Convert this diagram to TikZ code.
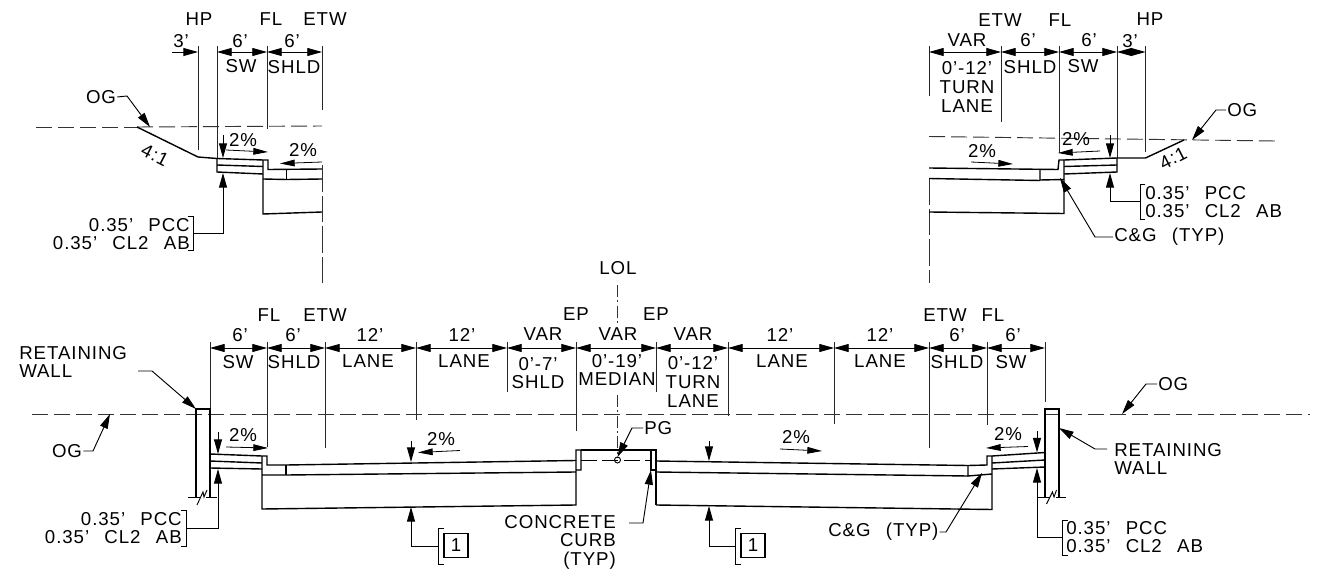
\documentclass[tikz,border=0pt]{standalone}
\usepackage{fontspec}
\setmainfont[LetterSpace=5,WordSpace=2.5]{Liberation Sans}
\usetikzlibrary{arrows.meta}
\tikzset{
  lbl/.style={inner sep=0.75pt,align=center,font=\fontsize{14}{13.9}\selectfont},
  thinln/.style={line width=0.7pt,color=black!85},
  pave/.style={line width=1.05pt},
  ogline/.style={line width=0.7pt,color=black!80,dash pattern=on 12pt off 4.5pt},
  clline/.style={line width=0.7pt,color=black!80,dash pattern=on 9pt off 2.5pt on 1.5pt off 2.5pt},
  breakln/.style={line width=0.7pt,color=black!80,dash pattern=on 20pt off 3pt},
  dimln/.style={line width=0.6pt,{Triangle[length=11pt,width=6pt]}-{Triangle[length=11pt,width=6pt]}},
  leader/.style={line width=0.7pt,-{Triangle[length=11pt,width=6pt]}},
  slope/.style={line width=0.6pt,-{Triangle[length=11pt,width=5pt]}},
}
\begin{document}
\begin{tikzpicture}[x=0.75pt,y=0.75pt,yscale=-1,xscale=1]
\useasboundingbox (0,0) rectangle (1317,574);

%Top left extension lines
\draw [thinln] (198,46) -- (198,150);
\draw [thinln] (217,46) -- (217,158);
\draw [thinln] (267,46) -- (267,129);
\draw [thinln] (322,46) -- (322,110);
\draw [breakln] (322,165) -- (322,283);
%Top left dimensions
\draw [leader] (172,52) -- (198,52);
\draw [dimln] (217,52) -- (267,52);
\draw [dimln] (267,52) -- (322,52);
%Top left ground
\draw [ogline] (36,127) -- (137,127);
\draw [ogline] (137,127) -- (322,126);
\draw [pave] (137,127) -- (198,157) -- (217,158.5) -- (263,160) -- (268,160) -- (268,169.5) -- (322,169);
\draw [pave] (217,158.5) -- (217,172) -- (263,174);
\draw [pave] (217,165) -- (263,166.5);
\draw [pave] (263,160) -- (263,214) -- (322,212);
\draw [pave] (263,179) -- (286.5,179.5) -- (322,179);
\draw [pave] (286.5,169.5) -- (286.5,179.5);
%Top left arrows
\draw [leader] (223,135) -- (223,158);
\draw [slope] (226,150) -- (268,152);
\draw [slope] (322,162) -- (280,163.5);
\draw [line width=0.7pt] (188,216) -- (193,216) -- (193,250) -- (188,250);
\draw [leader] (193,233) -- (223,233) -- (223,173);

% Text Node
\draw (199,19) node (hpA) [lbl] {HP};
\draw (271,19) node (flA) [lbl] {FL};
\draw (325,19) node (etwA) [lbl] {ETW};
\draw (181,41) node (dimThreeA) [lbl] {3'};
\draw (240,41) node (dimSixA) [lbl] {6'};
\draw (292,41) node (dimSixB) [lbl] {6'};
\draw (241,66) node (swA) [lbl] {SW};
\draw (294,67) node (shldA) [lbl] {SHLD};
\draw (243,140) node (pctA) [lbl] {2\%};
\draw (303,150) node (pctB) [lbl] {2\%};
\draw (155,155) node (slopeA) [lbl,rotate=-27] {4:1};
\draw (191,234) node (pccA) [lbl,anchor=east,align=right] {0.35' PCC\\0.35' CL2 AB};
\draw (101,97) node (ogA) [lbl] {OG};
\coordinate (ogAtip) at (150,127);
\draw [leader] (ogA.east) -- (127,96) -- (ogAtip);

%Top right extension lines
\draw [thinln] (929,46) -- (929,96);
\draw [breakln] (929,178) -- (929,283);
\draw [thinln] (1001,46) -- (1001,122);
\draw [thinln] (1059,46) -- (1059,153);
\draw [thinln] (1117,46) -- (1117,158);
\draw [thinln] (1145.5,46) -- (1145.5,152);
%Top right dimensions
\draw [dimln] (929,52) -- (1001,52);
\draw [dimln] (1001,52) -- (1059,52);
\draw [dimln] (1059,52) -- (1117,52);
\draw [dimln] (1117,52) -- (1145.5,52);
%Top right ground
\draw [ogline] (929,136.5) -- (1275,141);
\draw [pave] (1184,140) -- (1145.5,158) -- (1117,158) -- (1064,160) -- (1059,160) -- (1058,169.5) -- (929,168);
\draw [pave] (1117,158) -- (1117,172) -- (1064,174);
\draw [pave] (1117,165) -- (1064,166.5);
\draw [pave] (1064,160) -- (1064,213.5) -- (929,212);
\draw [pave] (929,178.5) -- (1040,180.5);
\draw [pave] (1040,169) -- (1040,180) -- (1064,179.5);
%Top right arrows
\draw [slope] (971,162) -- (1013,164);
\draw [slope] (1100,151) -- (1058,153);
\draw [leader] (1110,135) -- (1110,158);
\draw [line width=0.7pt] (1145,184) -- (1140,184) -- (1140,219) -- (1145,219);
\draw [leader] (1140,201) -- (1110,201) -- (1110,173);

% Text Node
\draw (1000,20) node (etwB) [lbl] {ETW};
\draw (1060,20) node (flB) [lbl] {FL};
\draw (1150,19) node (hpB) [lbl] {HP};
\draw (967,40) node (varA) [lbl] {VAR};
\draw (1028,40) node (dimSixC) [lbl] {6'};
\draw (1089,40) node (dimSixD) [lbl] {6'};
\draw (1130,41) node (dimThreeB) [lbl] {3'};
\draw (1030,67) node (shldB) [lbl] {SHLD};
\draw (1083,66) node (swB) [lbl] {SW};
\draw (967,87) node (turnA) [lbl] {0'-12'\\TURN\\LANE};
\draw (982,151) node (pctC) [lbl] {2\%};
\draw (1076,139) node (pctD) [lbl] {2\%};
\draw (1173,158) node (slopeB) [lbl,rotate=27] {4:1};
\draw (1144,202) node (pccB) [lbl,anchor=west,align=left] {0.35' PCC\\0.35' CL2 AB};
\draw (1113,237) node (cgA) [lbl,anchor=west] {C\&G (TYP)};
\coordinate (cgAtip) at (1060,178);
\draw [leader] (cgA.west) -- (1095,237) -- (cgAtip);
\draw (1226,110) node (ogB) [lbl,anchor=west] {OG};
\coordinate (ogBtip) at (1192,140);
\draw [leader] (ogB.west) -- (1216,110) -- (ogBtip);

%Main section extension lines
\draw [thinln] (210,342) -- (210,409);
\draw [thinln] (267,342) -- (267,447);
\draw [thinln] (325,342) -- (325,448);
\draw [thinln] (416,342) -- (416,420);
\draw [thinln] (507,342) -- (507,392);
\draw [thinln] (576,342) -- (576,431);
\draw [thinln] (656,342) -- (656,392);
\draw [thinln] (728,342) -- (728,416);
\draw [thinln] (834,342) -- (834,424);
\draw [thinln] (929,342) -- (929,448);
\draw [thinln] (987,342) -- (987,425);
\draw [thinln] (1045,342) -- (1045,402);
%Main section dimensions
\draw [dimln] (210,348) -- (267,348);
\draw [dimln] (267,348) -- (325,348);
\draw [dimln] (325,348) -- (416,348);
\draw [dimln] (416,348) -- (507,348);
\draw [dimln] (507,348) -- (576,348);
\draw [dimln] (576,348) -- (656,348);
\draw [dimln] (656,348) -- (728,348);
\draw [dimln] (728,348) -- (834,348);
\draw [dimln] (834,348) -- (929,348);
\draw [dimln] (929,348) -- (987,348);
\draw [dimln] (987,348) -- (1045,348);
%Ground and centre line
\draw [ogline] (32,414) -- (1310,414);
\draw [clline] (617.5,285) -- (617.5,325);
\draw [clline] (617.5,395) -- (617.5,458);
%Retaining walls
\draw [pave] (196,497) -- (196,409) -- (210,409) -- (210,497);
\draw [pave] (1045,497) -- (1045,409) -- (1059,409) -- (1059,497);
\draw [line width=0.7pt] (188,497) -- (200,497);
\draw [line width=0.7pt] (197,505) -- (203,492) -- (204,497) -- (207,490);
\draw [line width=0.7pt] (206,497) -- (217,497);
\draw [line width=0.7pt] (1038,497) -- (1050,497);
\draw [line width=0.7pt] (1046.5,504) -- (1052.5,492) -- (1054,497) -- (1056.5,490);
\draw [line width=0.7pt] (1056,497) -- (1066,497);
%Left side pavement
\draw [pave] (210,454) -- (262,456) -- (267,456) -- (267,465) -- (286,465) -- (576,460.5);
\draw [pave] (210,461) -- (262,463);
\draw [pave] (210,468) -- (262,469);
\draw [pave] (262,456) -- (262,509) -- (576,505) -- (576,450) -- (581,450) -- (581,470) -- (576,470);
\draw [pave] (262,475) -- (286,475) -- (576,472);
\draw [pave] (286,465) -- (286,475);
%Median
\draw [pave] (581,450) -- (651,450) -- (651,470) -- (656,470);
\draw [pave] (651,450) -- (656,450) -- (656,505);
\draw [line width=0.9pt,dash pattern=on 12pt off 4pt] (581,460.5) -- (651,460.5);
\draw [line width=0.7pt] (617.5,460) circle (3);
%Right side pavement
\draw [pave] (656,461) -- (968,465.5) -- (987,465) -- (987,456) -- (992,456) -- (1045,452.5);
\draw [pave] (656,472) -- (968,476);
\draw [pave] (968,465.5) -- (968,476) -- (992,474);
\draw [pave] (656,505) -- (992,509.5) -- (992,456);
\draw [pave] (992,463) -- (1045,460);
\draw [pave] (992,469) -- (1045,467);
%Main section arrows
\draw [leader] (218,432) -- (218,454);
\draw [slope] (226,447) -- (268,448);
\draw [line width=0.7pt] (181,510) -- (186,510) -- (186,546) -- (181,546);
\draw [leader] (186,528) -- (218,528) -- (218,469);
\draw [leader] (411,441) -- (411,462);
\draw [slope] (460,450.5) -- (418,452.5);
\draw [leader] (709,441) -- (709,461);
\draw [slope] (780,449) -- (822,451);
\draw [slope] (1028,446.5) -- (986,448);
\draw [leader] (1037,431) -- (1037,452.5);
\draw [line width=0.7pt] (1068,520) -- (1062,520) -- (1062,555) -- (1068,555);
\draw [leader] (1062,537) -- (1037,537) -- (1037,468);
\draw [line width=0.7pt] (444,528) -- (438,528) -- (438,564) -- (444,564);
\draw [leader] (438,546) -- (411,546) -- (411,507);
\draw [line width=0.7pt] (741,528) -- (735,528) -- (735,564) -- (741,564);
\draw [leader] (735,546) -- (709,546) -- (709,506);

% Text Node
\draw (269,315) node (flC) [lbl] {FL};
\draw (325,315) node (etwC) [lbl] {ETW};
\draw (576,314) node (epA) [lbl] {EP};
\draw (656,314) node (epB) [lbl] {EP};
\draw (945,315) node (etwD) [lbl] {ETW};
\draw (993,315) node (flD) [lbl] {FL};
\draw (618,268) node (lol) [lbl] {LOL};
\draw (240,335) node (dimSixE) [lbl] {6'};
\draw (293,335) node (dimSixF) [lbl] {6'};
\draw (370,335) node (dimTwelveA) [lbl] {12'};
\draw (462,335) node (dimTwelveB) [lbl] {12'};
\draw (543,334) node (varB) [lbl] {VAR};
\draw (618,334) node (varC) [lbl] {VAR};
\draw (693,334) node (varD) [lbl] {VAR};
\draw (780,335) node (dimTwelveC) [lbl] {12'};
\draw (880,335) node (dimTwelveD) [lbl] {12'};
\draw (957,335) node (dimSixG) [lbl] {6'};
\draw (1013,335) node (dimSixH) [lbl] {6'};
\draw (238,362) node (swC) [lbl] {SW};
\draw (294,362) node (shldC) [lbl] {SHLD};
\draw (368,361) node (laneA) [lbl] {LANE};
\draw (464,361) node (laneB) [lbl] {LANE};
\draw (538,373) node (shldD) [lbl] {0'-7'\\SHLD};
\draw (617,370) node (median) [lbl] {0'-19'\\MEDIAN};
\draw (693,382) node (turnB) [lbl] {0'-12'\\TURN\\LANE};
\draw (782,361) node (laneC) [lbl] {LANE};
\draw (880,361) node (laneD) [lbl] {LANE};
\draw (957,362) node (shldE) [lbl] {SHLD};
\draw (1011,362) node (swD) [lbl] {SW};
\draw (243,435) node (pctE) [lbl] {2\%};
\draw (441,439) node (pctF) [lbl] {2\%};
\draw (796,437) node (pctG) [lbl] {2\%};
\draw (1008,434) node (pctH) [lbl] {2\%};
\draw (18,362) node (wallA) [lbl,anchor=west,align=left] {RETAINING\\WALL};
\coordinate (wallAtip) at (196,409);
\draw [leader] (138,371) -- (152,371) -- (wallAtip);
\draw (67,451) node (ogC) [lbl] {OG};
\coordinate (ogCtip) at (110,414);
\draw [leader] (ogC.east) -- (93,451) -- (ogCtip);
\draw (183,528) node (pccC) [lbl,anchor=east,align=right] {0.35' PCC\\0.35' CL2 AB};
\draw (1113,459) node (wallB) [lbl,anchor=west,align=left] {RETAINING\\WALL};
\coordinate (wallBtip) at (1059,428);
\draw [leader] (1107,449) -- (1095,449) -- (wallBtip);
\draw (1157,384) node (ogD) [lbl,anchor=west] {OG};
\coordinate (ogDtip) at (1122,414);
\draw [leader] (ogD.west) -- (1146,384) -- (ogDtip);
\draw (1065,537) node (pccD) [lbl,anchor=west,align=left] {0.35' PCC\\0.35' CL2 AB};
\draw (643,428) node (pg) [lbl,anchor=west] {PG};
\coordinate (pgtip) at (617.5,457);
\draw [leader] (pg.west) -- (632,428) -- (pgtip);
\draw (617,542) node (curb) [lbl,anchor=east,align=right] {CONCRETE\\CURB\\(TYP)};
\coordinate (curbtip) at (651,470);
\draw [leader] (629,523) -- (643,523) -- (curbtip);
\draw (827,532) node (cgB) [lbl,anchor=west] {C\&G (TYP)};
\coordinate (cgBtip) at (982,473);
\draw [leader] (cgB.east) -- (946,532) -- (cgBtip);
\draw (456,545.5) node (noteA) [lbl,draw,line width=0.9pt,minimum width=18pt,minimum height=18pt] {1};
\draw (753,545.5) node (noteB) [lbl,draw,line width=0.9pt,minimum width=18pt,minimum height=18pt] {1};

\end{tikzpicture}
\end{document}
